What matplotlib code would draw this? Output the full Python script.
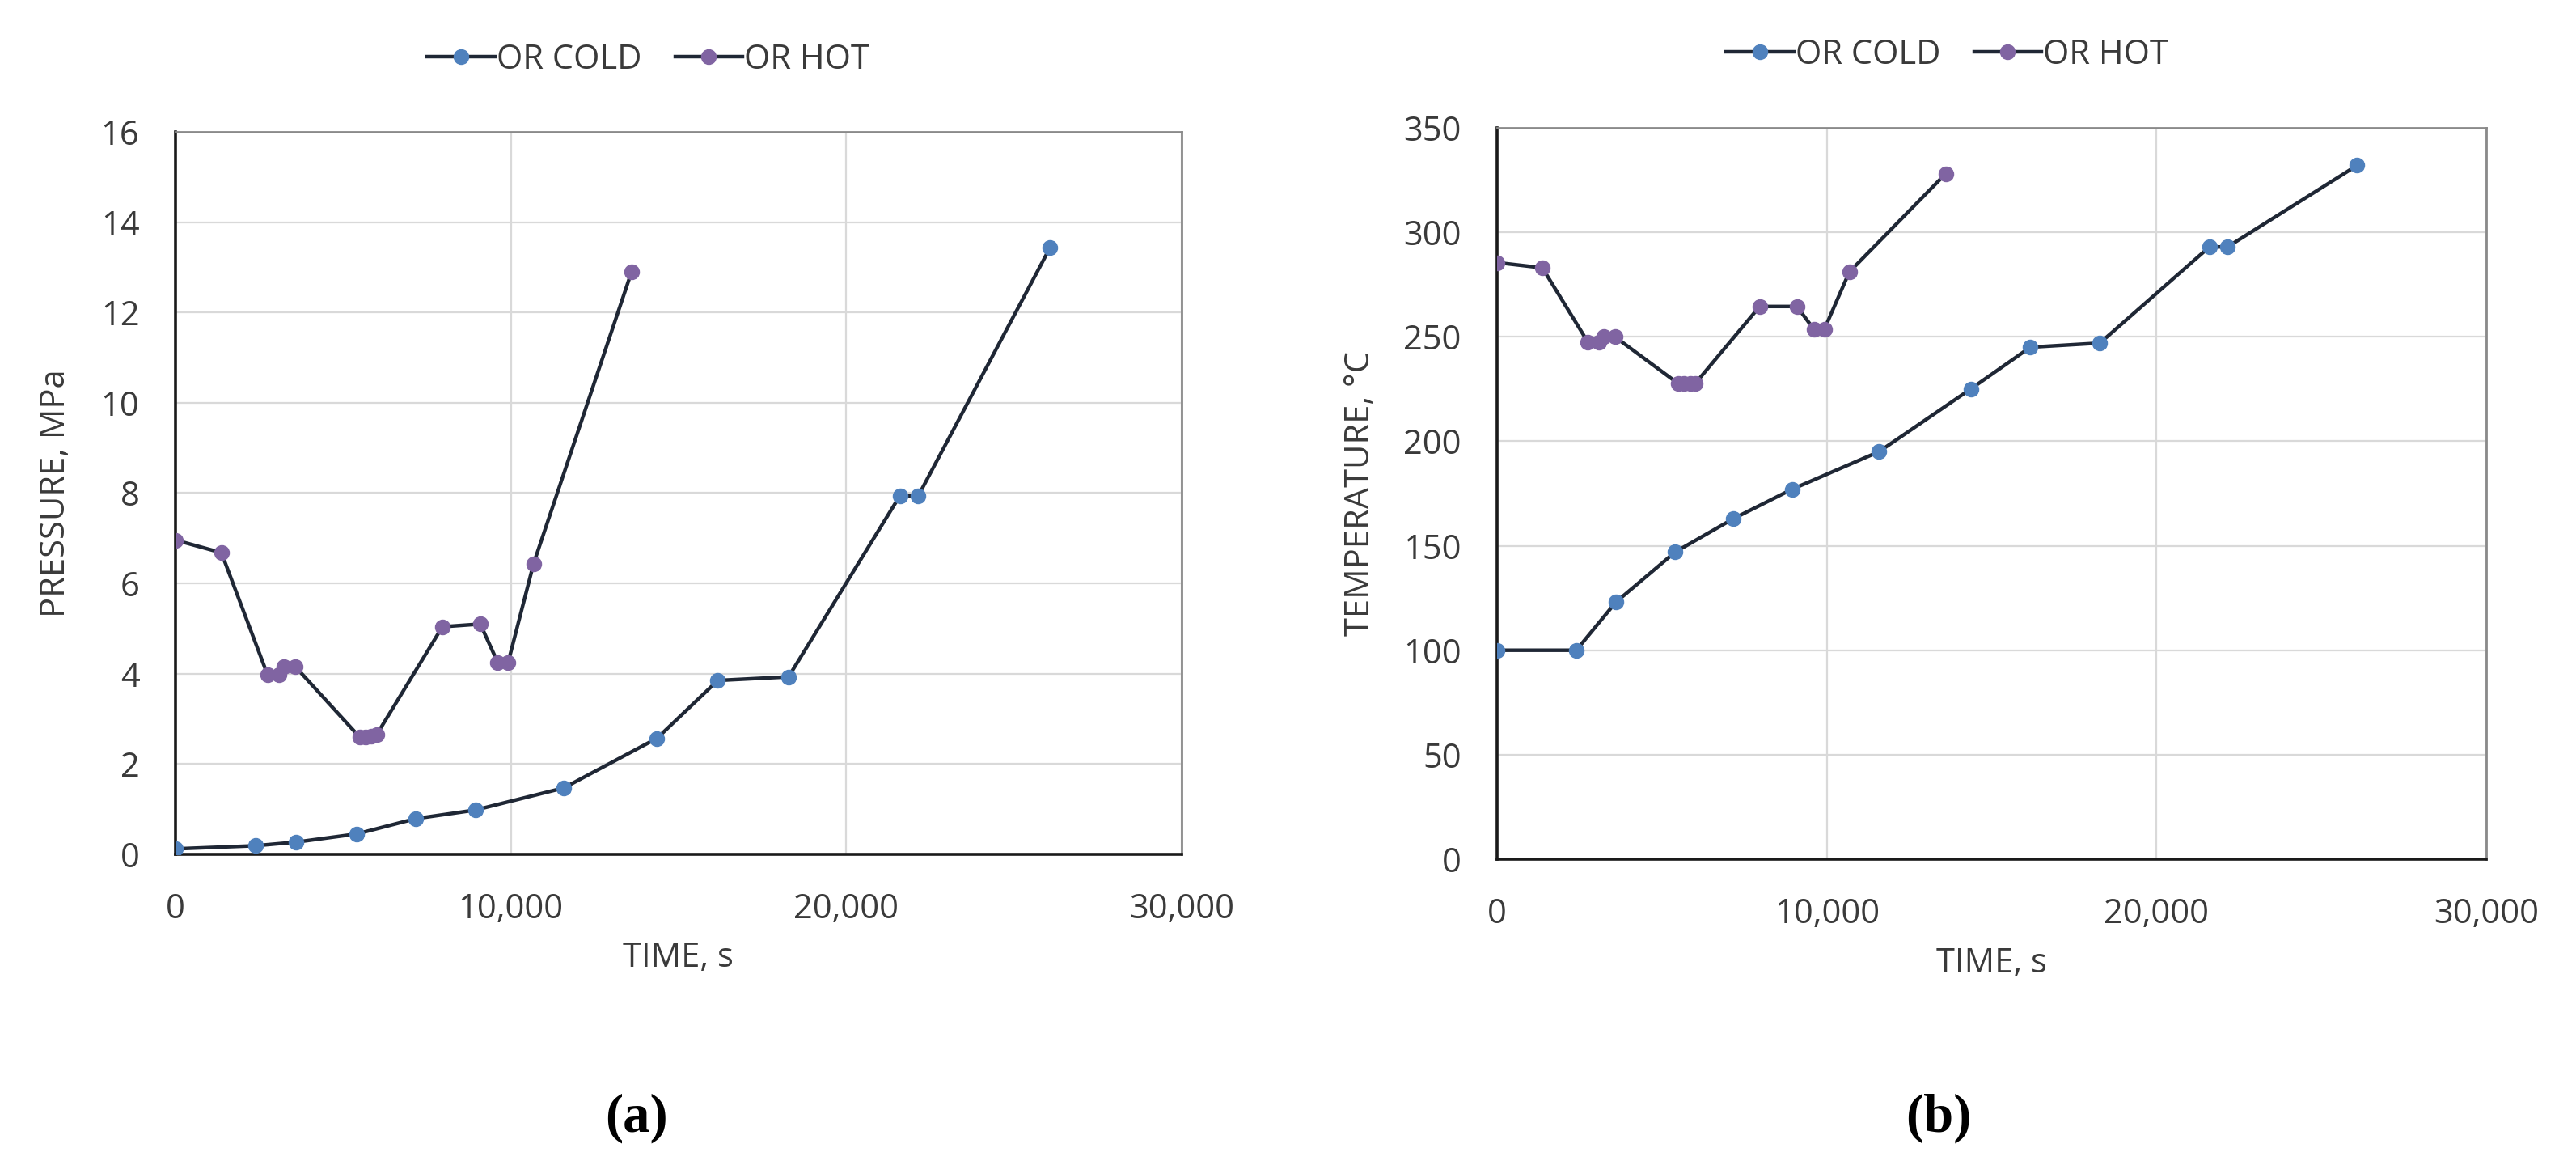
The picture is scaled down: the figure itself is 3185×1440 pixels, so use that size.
import matplotlib.pyplot as plt
from matplotlib.ticker import FuncFormatter, MultipleLocator

plt.rcParams['font.family'] = ['Open Sans', 'DejaVu Sans']

# time points, s
t_cold = [0, 2400, 3600, 5400, 7170, 8940, 11580, 14360, 16170, 18280, 21600, 22150, 26080]
t_hot = [0, 1370, 2750, 3090, 3240, 3570, 5500, 5670, 5850, 6000, 7960, 9090, 9610, 9920, 10680, 13600]

# (a) pressure, MPa
p_cold = [0.12, 0.19, 0.27, 0.45, 0.79, 0.98, 1.47, 2.57, 3.85, 3.93, 7.94, 7.94, 13.44]
p_hot = [6.96, 6.68, 3.97, 3.97, 4.16, 4.16, 2.59, 2.59, 2.62, 2.65, 5.04, 5.10, 4.25, 4.25, 6.44, 12.9]

# (b) temperature, C
T_cold = [100, 100, 123, 147, 163, 177, 195, 225, 245, 247, 293, 293, 332]
T_hot = [285.5, 283, 247.5, 247.5, 250, 250, 227.5, 227.5, 227.5, 227.5, 264.5, 264.5, 253.5, 253.5, 281, 328]

labels = ['OR COLD', 'OR HOT']
marker_colors = ['#4f81bd', '#8064a2']
line_color = '#1f2735'
text_color = '#3a3a3a'
fs = 30

fig = plt.figure(figsize=(31.85, 14.4), dpi=100)
ax1 = fig.add_axes([0.0681, 0.2667, 0.3906, 0.6201])
ax2 = fig.add_axes([0.5812, 0.2625, 0.3840, 0.6278])


def style(ax, ymax, ystep, ylabel, ylab_x, leg_x):
    ax.set_xlim(0, 30000)
    ax.set_ylim(0, ymax)
    ax.xaxis.set_major_locator(MultipleLocator(10000))
    ax.yaxis.set_major_locator(MultipleLocator(ystep))
    ax.xaxis.set_major_formatter(FuncFormatter(lambda v, p: f'{v:,.0f}'))
    ax.grid(True, color='#d9d9d9', lw=1.6)
    ax.set_axisbelow(True)
    ax.tick_params(length=0, labelsize=fs, labelcolor=text_color)
    ax.tick_params(axis='x', pad=34)
    ax.tick_params(axis='y', pad=32)
    for s in ['left', 'bottom']:
        ax.spines[s].set_color('#1a1a1a')
        ax.spines[s].set_linewidth(2.6)
    for s in ['top', 'right']:
        ax.spines[s].set_color('#8a8a8a')
        ax.spines[s].set_linewidth(2.0)
    ax.set_xlabel('TIME, s', fontsize=fs, color=text_color)
    ax.xaxis.set_label_coords(0.5, -0.12)
    ax.set_ylabel(ylabel, fontsize=fs, color=text_color)
    ax.yaxis.set_label_coords(ylab_x, 0.5)
    ax.legend(loc='center', bbox_to_anchor=(leg_x, 1.1), ncol=2, frameon=False,
              fontsize=fs, labelcolor=text_color, handlelength=2.0,
              handletextpad=0.05, columnspacing=1.0)


for ax, cold, hot in [(ax1, p_cold, p_hot), (ax2, T_cold, T_hot)]:
    ax.plot(t_cold, cold, color=line_color, lw=3.2, marker='o', ms=13,
            mfc=marker_colors[0], mec=marker_colors[0], label=labels[0], zorder=3)
    ax.plot(t_hot, hot, color=line_color, lw=3.2, marker='o', ms=13,
            mfc=marker_colors[1], mec=marker_colors[1], label=labels[1], zorder=3)

style(ax1, 16, 2, 'PRESSURE, MPa', -0.102, 0.47)
style(ax2, 350, 50, 'TEMPERATURE, °C', -0.121, 0.455)

fig.text(787 / 3185, 1 - 1382 / 1440, '(a)', ha='center', va='center',
         fontsize=48, family='Liberation Serif', fontweight='bold')
fig.text(2397 / 3185, 1 - 1382 / 1440, '(b)', ha='center', va='center',
         fontsize=48, family='Liberation Serif', fontweight='bold')

fig.savefig('out.png', dpi=100, facecolor='white')
